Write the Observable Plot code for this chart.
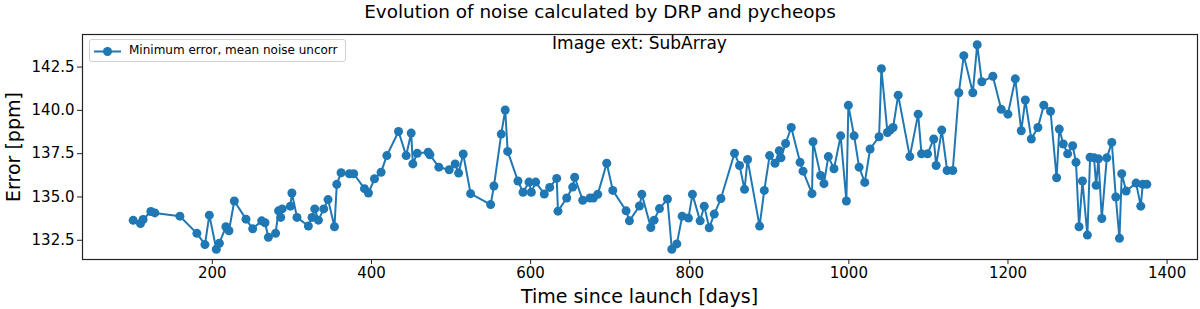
<!DOCTYPE html>
<html>
<head>
<meta charset="utf-8">
<script src="https://cdn.jsdelivr.net/npm/d3@7"></script>
<script src="https://cdn.jsdelivr.net/npm/@observablehq/plot@0.6"></script>
<style>
  body { margin: 0; background: #fff; }
  #wrap { position: relative; width: 1200px; height: 309px; font-family: "DejaVu Sans", sans-serif; color: #000; }
  .abs { position: absolute; white-space: nowrap; }
  #title { left: 0; width: 1200px; top: 1px; text-align: center; font-size: 18.4px; }
  #xlabel { left: 82px; width: 1115px; top: 285px; text-align: center; font-size: 19px; }
  #ylabel { left: 13px; top: 147px; font-size: 19px; transform: translate(-50%, -50%) rotate(-90deg); }
  #sub { left: 82px; width: 1115px; top: 33px; text-align: center; font-size: 17px; }
  #legend { left: 89px; top: 39px; width: 257px; height: 23px; border: 1px solid #d0d0d0; border-radius: 3px; background: rgba(255,255,255,0.8); box-sizing: border-box; }
  #legend svg { position: absolute; left: 3px; top: 2px; }
  #legend span { position: absolute; left: 39px; top: 3px; font-size: 12px; }
</style>
</head>
<body>
<div id="wrap">
  <div id="chart"></div>
  <div class="abs" id="title">Evolution of noise calculated by DRP and pycheops</div>
  <div class="abs" id="sub">Image ext: SubArray</div>
  <div class="abs" id="legend">
    <svg width="32" height="18"><line x1="1" y1="9.5" x2="28" y2="9.5" stroke="#1f77b4" stroke-width="2"/><circle cx="14.5" cy="9.5" r="4.5" fill="#1f77b4"/></svg>
    <span>Minimum error, mean noise uncorr</span>
  </div>
  <div class="abs" id="xlabel">Time since launch [days]</div>
  <div class="abs" id="ylabel">Error [ppm]</div>
</div>
<script>
const days = [100.5,109.7,113,122.7,127.7,159.2,180.6,190.7,196.2,205,208.8,217,220.9,227.6,242.3,250.7,262,266.2,270.4,279.5,
283.2,285.9,287.8,298.1,300,306.4,320.7,325.3,328.7,333.3,340,345.4,353.5,356.4,361.8,372.3,377.7,391.2,396.2,403.8,
412.1,419.3,434,443.6,449.9,452,457.5,471.3,473.4,484.7,497.7,505.2,509.5,515.3,524.6,549.8,553.9,563.1,568.1,571.2,
584.1,590.5,598,600.9,606.4,617.2,624,632.8,634.4,645.4,652.9,655.4,665.5,674.7,678.9,684.4,695.7,703.3,720,724.2,
736.8,739.8,751.1,755.2,762,772,777.5,783.8,790.5,798.4,803.4,813.1,818.2,824.5,830.8,839.2,856.3,862.6,868.9,872.7,
887.8,893.7,900.4,907.2,912.6,914.7,920.5,927.6,938.7,942.4,953.7,955,964.5,968.7,974.2,981.3,989.7,996.9,999.4,1006.6,
1012.9,1020,1026.7,1038,1040.9,1048.5,1051.8,1055.6,1062,1076.6,1087.1,1091.3,1098.9,1106.7,1109.7,1116.8,1123.5,1130.6,1138.2,1144.5,
1155.8,1161.3,1167.1,1181,1191.5,1199.9,1209.2,1216.7,1221.8,1229.3,1237.6,1245,1253.5,1261.1,1264.5,1269.5,1275,1281.3,1285.5,1289.3,
1293.6,1299.8,1303.2,1308.2,1310.8,1313.7,1317.9,1324.2,1330.5,1335.5,1340.1,1343,1348.5,1361,1366.9,1369.4,1374.5];

const errors = [133.65,133.47,133.7,134.16,134.08,133.89,132.9,132.25,133.95,131.98,132.33,133.28,133.05,134.77,133.72,133.16,133.62,133.51,132.67,132.9,
134.2,133.82,134.31,134.47,135.23,133.82,133.32,133.82,134.31,133.66,134.31,134.85,133.28,135.73,136.4,136.34,136.34,135.48,135.23,136.05,
136.43,137.39,138.78,137.39,138.69,136.91,137.52,137.58,137.44,136.72,136.57,136.91,136.38,137.48,135.19,134.56,135.63,138.63,140.02,137.63,
135.92,135.27,135.86,135.27,135.86,135.17,135.55,136.07,134.18,134.94,135.57,136.14,134.81,134.94,134.94,135.15,136.95,135.38,134.2,133.62,
134.48,135.15,133.24,133.66,134.33,134.88,131.98,132.29,133.89,133.78,135.15,133.62,134.47,133.22,134.01,134.91,137.52,136.82,135.44,137.16,
133.32,135.38,137.39,136.95,137.67,137.26,138.09,139.01,137.0,136.49,135.19,138.19,136.24,135.77,137.33,136.63,138.53,134.77,140.29,138.53,
136.72,135.84,137.77,138.48,142.41,138.72,138.86,139.01,140.88,137.33,139.78,137.49,137.49,138.35,136.82,138.86,136.53,136.53,141.02,143.16,
141.02,143.79,141.65,141.97,140.06,139.78,141.82,138.82,140.6,138.35,139.01,140.3,139.95,136.11,138.92,138.06,137.49,137.96,137.0,133.28,
135.92,132.8,137.29,137.26,135.67,137.2,133.76,137.26,138.15,135.0,132.61,136.34,135.34,135.8,134.47,135.73,135.73];

const xTicks = [200, 400, 600, 800, 1000, 1200, 1400];
const yTicks = [132.5, 135.0, 137.5, 140.0, 142.5];

const data = days.map((d, i) => ({day: d, err: errors[i]}));

function padded(vals) {
  const [a, b] = d3.extent(vals);
  const p = (b - a) * 0.05;
  return [a - p, b + p];
}

const blue = "#1f77b4";
const chart = Plot.plot({
  width: 1200,
  height: 309,
  marginLeft: 82,
  marginRight: 3,
  marginTop: 34,
  marginBottom: 50,
  style: {fontFamily: "DejaVu Sans, sans-serif", fontSize: "15px", color: "#000", background: "transparent"},
  x: {domain: padded(days)},
  y: {domain: padded(errors)},
  marks: [
    Plot.line(data, {x: "day", y: "err", stroke: blue, strokeWidth: 2}),
    Plot.dot(data, {x: "day", y: "err", r: 4.5, fill: blue, stroke: "none"}),
    Plot.frame({stroke: "#222", strokeWidth: 1.2}),
    Plot.axisX({ticks: xTicks, tickFormat: d3.format("d"), tickSize: 5, tickPadding: 3, label: null, fontSize: 15, stroke: "#222"}),
    Plot.axisY({ticks: yTicks, tickFormat: d3.format(".1f"), tickSize: 5, tickPadding: 3, label: null, fontSize: 15, stroke: "#222"})
  ]
});
document.getElementById("chart").appendChild(chart);
</script>
</body>
</html>
